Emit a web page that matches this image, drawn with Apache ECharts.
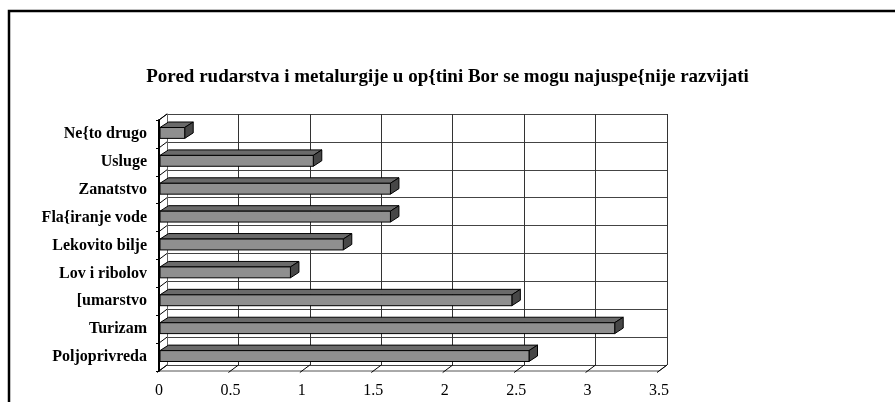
<!DOCTYPE html>
<html>
<head>
<meta charset="utf-8">
<script src="https://cdn.jsdelivr.net/npm/echarts@6/dist/echarts.min.js"></script>
<style>
html, body { margin: 0; padding: 0; background: #fff; }
#chartDiv { width: 895px; height: 402px; }
</style>
</head>
<body>
<div id="chartDiv"></div>
<script>
// 数据
const categories = ['Poljoprivreda', 'Turizam', '[umarstvo', 'Lov i ribolov', 'Lekovito bilje',
	'Fla{iranje vode', 'Zanatstvo', 'Usluge', 'Ne{to drugo'];
const values = [2.59, 3.19, 2.47, 0.92, 1.29, 1.62, 1.62, 1.08, 0.18];
const xTicks = [0, 0.5, 1, 1.5, 2, 2.5, 3, 3.5];
const titleText = 'Pored rudarstva i metalurgije u op{tini Bor se mogu najuspe{nije razvijati';

let myChart = echarts.init(document.getElementById('chartDiv'));

// 3D depth offset
const DX = 8, DY = -6;
const FONT = 'Liberation Serif';

let barData = values.map(function (v, i) { return [v, i]; });

let option = {
	backgroundColor: '#fff',
	animation: false,
	title: {
		text: titleText,
		left: 'center',
		top: 63,
		textStyle: { fontFamily: FONT, fontSize: 19, fontWeight: 'bold', color: '#000' }
	},
	graphic: [{
		type: 'rect',
		shape: { x: 9, y: 11, width: 1000, height: 600 },
		style: { fill: 'none', stroke: '#000', lineWidth: 2.5 },
		z: 100
	}],
	grid: [
		// front plane
		{ left: 159, right: 236, top: 120, bottom: 31 },
		// back wall
		{ left: 159 + DX, right: 236 - DX, top: 120 + DY, bottom: 31 - DY }
	],
	xAxis: [{
		gridIndex: 0, type: 'value', min: 0, max: 3.5, interval: 0.5,
		axisLine: { show: false }, axisTick: { show: false },
		splitLine: { show: false },
		axisLabel: { margin: 12, fontFamily: FONT, fontSize: 16, color: '#000' }
	}, {
		gridIndex: 1, type: 'value', min: 0, max: 3.5, interval: 0.5,
		axisLine: { show: false }, axisTick: { show: false }, axisLabel: { show: false },
		splitLine: { show: true, lineStyle: { color: '#333', width: 1 } }
	}],
	yAxis: [{
		gridIndex: 0, type: 'category', data: categories,
		axisLine: { show: true, lineStyle: { color: '#000', width: 2 } },
		axisTick: { show: true, length: 3, lineStyle: { color: '#000' } },
		splitLine: { show: false },
		axisLabel: { margin: 12, fontFamily: FONT, fontSize: 16, fontWeight: 'bold', color: '#000' }
	}, {
		gridIndex: 1, type: 'category', data: categories,
		axisLine: { show: true, lineStyle: { color: '#666', width: 1 } },
		axisTick: { show: false }, axisLabel: { show: false },
		splitLine: { show: true, lineStyle: { color: '#444', width: 1 } }
	}],
	series: [{
		// floor and left wall edges
		type: 'custom',
		xAxisIndex: 0, yAxisIndex: 0,
		data: [[0, 0]],
		silent: true,
		z: 2,
		renderItem: function (params, api) {
			let children = [];
			let band = api.size([0, 1])[1];
			let bottom = api.coord([0, 0])[1] + band / 2;
			let top = api.coord([0, categories.length - 1])[1] - band / 2;
			let left = api.coord([0, 0])[0];
			let right = api.coord([xTicks[xTicks.length - 1], 0])[0];
			let line = function (x1, y1, x2, y2, color, w) {
				children.push({ type: 'line', shape: { x1, y1, x2, y2 },
					style: { stroke: color, lineWidth: w || 1 } });
			};
			// floor front edge and right edge
			line(left, bottom, right, bottom, '#555');
			line(right, bottom, right + DX, bottom + DY, '#555');
			// floor ticks
			xTicks.forEach(function (t) {
				let x = api.coord([t, 0])[0];
				line(x - 2, bottom + 1.5, x + DX, bottom + DY, '#000');
			});
			// left wall diagonals at category boundaries
			for (let k = 0; k <= categories.length; k++) {
				let y = bottom - k * band;
				line(left, y, left + DX, y + DY, '#000');
			}
			line(left, top, left + DX, top + DY, '#000');
			return { type: 'group', children };
		}
	}, {
		// 3D bars
		type: 'custom',
		xAxisIndex: 0, yAxisIndex: 0,
		data: barData,
		encode: { x: 0, y: 1 },
		z: 5,
		renderItem: function (params, api) {
			let v = api.value(0);
			let cat = api.value(1);
			let p0 = api.coord([0, cat]);
			let p1 = api.coord([v, cat]);
			let band = api.size([0, 1])[1];
			let h = band * 0.39;
			let yc = p0[1] - 1;
			let x0 = p0[0] + 1, x1 = p1[0], y0 = yc - h / 2, y1 = yc + h / 2;
			let dx = 8.5, dy = -5.5;
			return {
				type: 'group',
				children: [{
					type: 'polygon',
					shape: { points: [[x0, y0], [x1, y0], [x1 + dx, y0 + dy], [x0 + dx, y0 + dy]] },
					style: { fill: '#6a6a6a', stroke: '#000', lineWidth: 1 }
				}, {
					type: 'polygon',
					shape: { points: [[x1, y0], [x1 + dx, y0 + dy], [x1 + dx, y1 + dy], [x1, y1]] },
					style: { fill: '#474747', stroke: '#000', lineWidth: 1 }
				}, {
					type: 'rect',
					shape: { x: x0, y: y0, width: x1 - x0, height: h },
					style: { fill: '#8f8f8f', stroke: '#000', lineWidth: 1 }
				}]
			};
		}
	}]
};

myChart.setOption(option);
window.onresize = myChart.resize;
</script>
</body>
</html>
